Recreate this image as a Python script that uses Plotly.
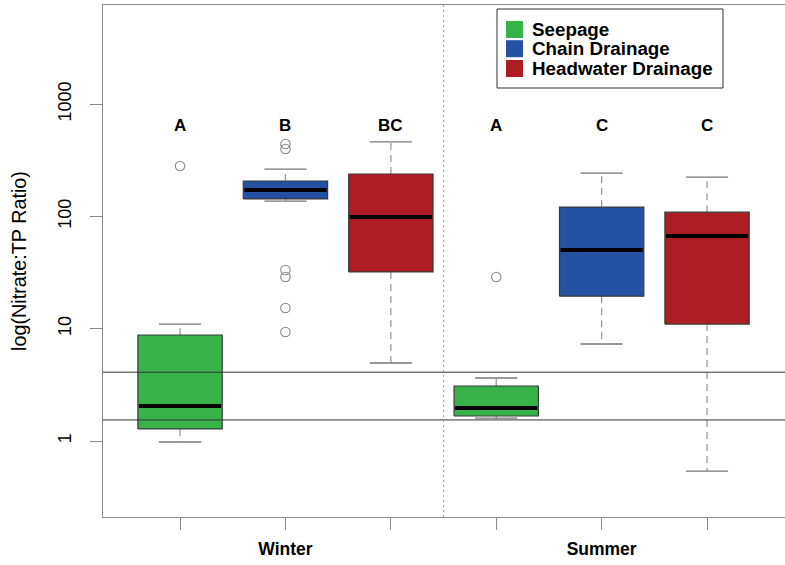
import math
import plotly.graph_objects as go

# ---- data ----
groups = ["Seepage", "Chain Drainage", "Headwater Drainage",
          "Seepage", "Chain Drainage", "Headwater Drainage"]
seasons = ["Winter", "Winter", "Winter", "Summer", "Summer", "Summer"]
positions = [1, 2, 3, 4, 5, 6]
q1 = [1.28, 143, 32, 1.67, 19.5, 11.0]
median = [2.05, 172, 98.8, 1.97, 50.2, 66.9]
q3 = [8.79, 206.7, 238.6, 3.09, 121, 109]
lower_whisker = [0.98, 137, 4.95, 1.60, 7.31, 0.54]
upper_whisker = [11.0, 264, 460, 3.64, 243, 224]
outliers = [[281], [441, 398, 33.3, 28.9, 15.3, 9.35], [], [28.9], [], []]
letters = ["A", "B", "BC", "A", "C", "C"]
letter_level = 650
reference_lines = [4.1, 1.54]
season_split = 3.5
series_names = ["Seepage", "Chain Drainage", "Headwater Drainage"]
series_colors = {"Seepage": "#37B34A", "Chain Drainage": "#2551A3",
                 "Headwater Drainage": "#AD1D23"}
y_ticks = [1, 10, 100, 1000]

# ---- layout geometry ----
W, H = 785, 565
L, R, T, B = 103, 0, 5, 48
plot_w, plot_h = W - L - R, H - T - B
x_range = [0.269, 0.269 + plot_w / 105.4]
y_range = [-0.6768, 3.8825]

BOX_HALF = 0.4
CAP_HALF = 0.2

fig = go.Figure()

for i, p in enumerate(positions):
    col = series_colors[groups[i]]
    # whiskers (dashed)
    for a, b in [(q3[i], upper_whisker[i]), (q1[i], lower_whisker[i])]:
        fig.add_trace(go.Scatter(x=[p, p], y=[a, b], mode="lines",
                                 line=dict(color="#9a9a9a", width=1.3, dash="7px,5px"),
                                 showlegend=False, hoverinfo="skip"))
    # caps
    for v in [upper_whisker[i], lower_whisker[i]]:
        fig.add_trace(go.Scatter(x=[p - CAP_HALF, p + CAP_HALF], y=[v, v], mode="lines",
                                 line=dict(color="#777777", width=1.3),
                                 showlegend=False, hoverinfo="skip"))
    # box
    fig.add_trace(go.Scatter(
        x=[p - BOX_HALF, p + BOX_HALF, p + BOX_HALF, p - BOX_HALF, p - BOX_HALF],
        y=[q1[i], q1[i], q3[i], q3[i], q1[i]],
        mode="lines", fill="toself", fillcolor=col,
        line=dict(color="#3a3a3a", width=1.2),
        showlegend=False, hoverinfo="skip"))
    # median
    fig.add_trace(go.Scatter(x=[p - BOX_HALF + 0.01, p + BOX_HALF - 0.01],
                             y=[median[i], median[i]], mode="lines",
                             line=dict(color="black", width=4),
                             showlegend=False, hoverinfo="skip"))
    # outliers
    if outliers[i]:
        fig.add_trace(go.Scatter(x=[p] * len(outliers[i]), y=outliers[i], mode="markers",
                                 marker=dict(symbol="circle-open", size=9.5,
                                             line=dict(color="#8a8a8a", width=1.1),
                                             color="#8a8a8a"),
                                 showlegend=False, hoverinfo="skip"))

shapes = []
# reference lines
for v in reference_lines:
    shapes.append(dict(type="line", xref="paper", yref="y", x0=0, x1=1, y0=v, y1=v,
                       line=dict(color="#333333", width=1)))
# season separator
shapes.append(dict(type="line", xref="x", yref="paper", x0=season_split, x1=season_split,
                   y0=0, y1=1, line=dict(color="#a0a0a0", width=1.2, dash="2px,3px")))

annotations = []
for p, t in zip(positions, letters):
    annotations.append(dict(x=p, y=math.log10(letter_level), xref="x", yref="y",
                            text="<b>" + t + "</b>", showarrow=False,
                            font=dict(family="Liberation Sans, Arial", size=17, color="black")))

# legend box (manual)
def px_x(px):
    return (px - L) / plot_w

def px_y(py):
    return (H - B - py) / plot_h

shapes.append(dict(type="rect", xref="paper", yref="paper",
                   x0=px_x(497), x1=px_x(723), y0=px_y(88), y1=px_y(9),
                   line=dict(color="#333333", width=1), fillcolor="white", layer="above"))
row_centers = [29.5, 48.7, 68.5]
for name, yc in zip(series_names, row_centers):
    shapes.append(dict(type="rect", xref="paper", yref="paper",
                       x0=px_x(506), x1=px_x(523), y0=px_y(yc + 8.5), y1=px_y(yc - 8.5),
                       line=dict(width=0), fillcolor=series_colors[name], layer="above"))
    annotations.append(dict(x=px_x(530), y=px_y(yc), xref="paper", yref="paper",
                            xanchor="left", yanchor="middle", showarrow=False,
                            text="<b>" + name + "</b>",
                            font=dict(family="Liberation Sans, Arial", size=18.8, color="black")))

season_ticktext = []
for i, p in enumerate(positions):
    if p == 2:
        season_ticktext.append("<b>Winter</b>")
    elif p == 5:
        season_ticktext.append("<b>Summer</b>")
    else:
        season_ticktext.append("")

fig.update_layout(
    width=W, height=H,
    margin=dict(l=L, r=R, t=T, b=B),
    plot_bgcolor="white", paper_bgcolor="white",
    showlegend=False,
    shapes=shapes, annotations=annotations,
    font=dict(family="Liberation Sans, Arial", color="black"),
    xaxis=dict(range=x_range, showgrid=False, zeroline=False,
               showline=True, mirror=True, linecolor="#8a8a8a", linewidth=1,
               ticks="outside", ticklen=12, tickcolor="#8a8a8a", tickwidth=1,
               tickvals=positions, ticktext=season_ticktext,
               tickfont=dict(size=17.5, color="black"), ticklabelstandoff=4),
    yaxis=dict(type="log", range=y_range, showgrid=False, zeroline=False,
               showline=True, linecolor="#8a8a8a", linewidth=1,
               ticks="outside", ticklen=12, tickcolor="#8a8a8a", tickwidth=1,
               tickvals=y_ticks, ticktext=[str(v) for v in y_ticks], tickangle=-90,
               tickfont=dict(size=18, color="black"), ticklabelstandoff=12,
               title=dict(text="log(Nitrate:TP Ratio)", font=dict(size=19.8, color="black"),
                          standoff=22)),
)

fig.write_html("out.html", config={"displayModeBar": False},
               post_script="document.body.style.margin='0';document.body.style.overflow='hidden';")
